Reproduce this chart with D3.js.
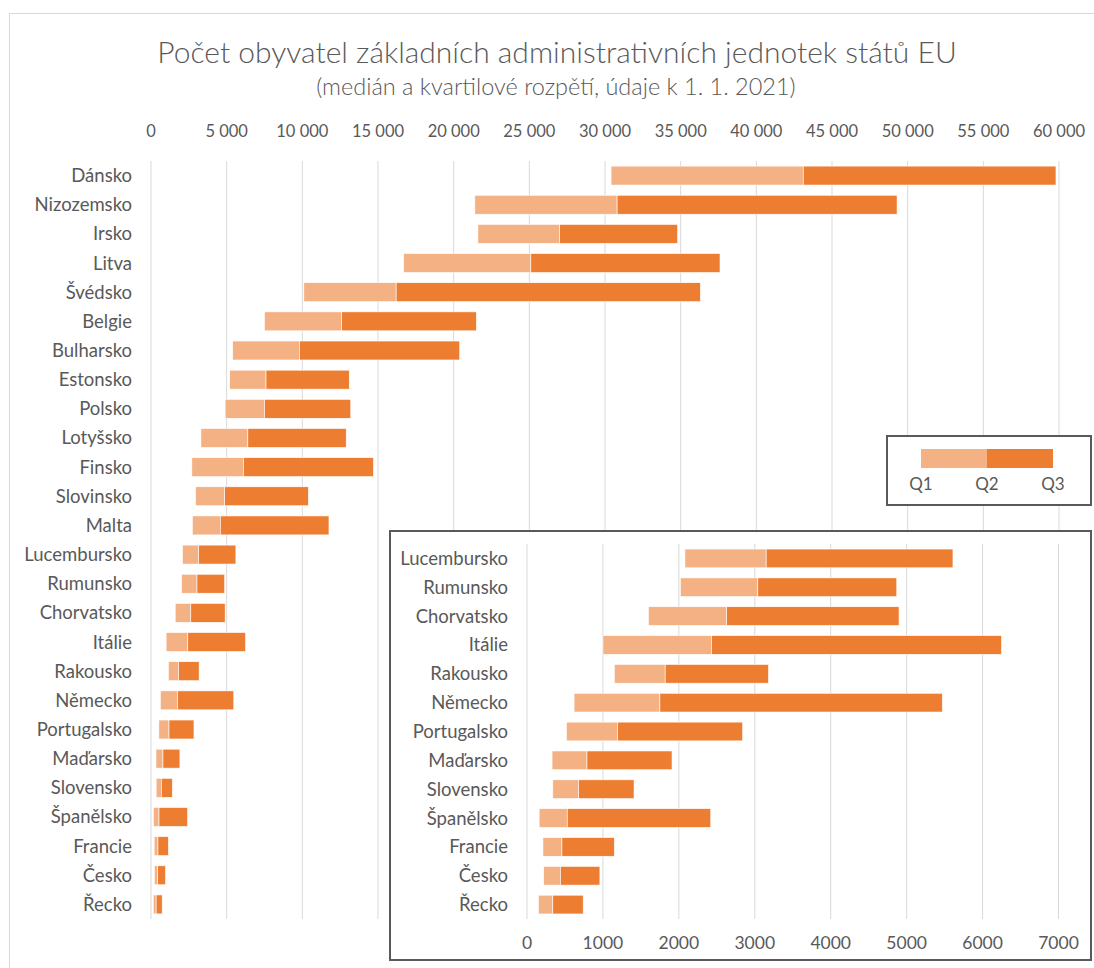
<!DOCTYPE html>
<html lang="cs">
  <head>
    <meta charset="UTF-8" />
    <title>Počet obyvatel základních administrativních jednotek</title>
    <script src="https://d3js.org/d3.v7.min.js"></script>
    <style>
      body { margin: 0; background: #fff; }
      text { font-family: Lato, "Open Sans", sans-serif; fill: #595959; }
    </style>
  </head>
  <body>
    <div id="chart"></div>
    <script>
      // data (population of LAU units, persons)
      const countries = [
        "Dánsko", "Nizozemsko", "Irsko", "Litva", "Švédsko", "Belgie",
        "Bulharsko", "Estonsko", "Polsko", "Lotyšsko", "Finsko", "Slovinsko",
        "Malta", "Lucembursko", "Rumunsko", "Chorvatsko", "Itálie", "Rakousko",
        "Německo", "Portugalsko", "Maďarsko", "Slovensko", "Španělsko",
        "Francie", "Česko", "Řecko",
      ];
      const q1 = [
        30400, 21400, 21600, 16700, 10100, 7500, 5400, 5200, 4900, 3300, 2700,
        2950, 2730, 2080, 2020, 1600, 1000, 1150, 620, 520, 330, 340, 160, 210,
        220, 150,
      ];
      const q2 = [
        43100, 30800, 27000, 25100, 16200, 12600, 9800, 7600, 7500, 6400, 6100,
        4870, 4580, 3150, 3040, 2630, 2430, 1820, 1750, 1190, 790, 680, 530,
        460, 440, 340,
      ];
      const q3 = [
        59800, 49300, 34800, 37600, 36300, 21500, 20400, 13100, 13200, 12900,
        14700, 10400, 11760, 5610, 4870, 4900, 6250, 3180, 5470, 2840, 1910,
        1410, 2420, 1150, 960, 740,
      ];
      const mainTicks = d3.range(0, 60001, 5000);
      const insetTicks = d3.range(0, 7001, 1000);
      const insetFrom = "Lucembursko";
      const legendLabels = ["Q1", "Q2", "Q3"];

      const title = "Počet obyvatel základních administrativních jednotek států EU";
      const subtitle = "(medián a kvartilové rozpětí, údaje k 1. 1. 2021)";

      const lightColor = "#F4B183";
      const darkColor = "#ED7D31";
      const gridColor = "#d9d9d9";

      const data = countries.map((c, i) => ({
        name: c, q1: q1[i], q2: q2[i], q3: q3[i],
      }));

      const W = 1094, H = 968;
      const svg = d3.select("#chart").append("svg")
        .attr("width", W).attr("height", H);

      // outer chart border
      svg.append("rect")
        .attr("x", 9.5).attr("y", 13.5)
        .attr("width", 1100).attr("height", 1000)
        .attr("fill", "#fff").attr("stroke", gridColor);

      svg.append("text").attr("x", 557).attr("y", 63)
        .attr("text-anchor", "middle").style("font-size", "30px")
        .style("font-weight", 300)
        .text(title);
      svg.append("text").attr("x", 556).attr("y", 95)
        .attr("text-anchor", "middle").style("font-size", "23.5px")
        .style("font-weight", 300)
        .text(subtitle);

      const fmt = (v) => d3.format(",")(v).replace(/,/g, " ");

      // draws one range bar chart (Q1-Q2 light, Q2-Q3 dark)
      function drawRanges(g, rows, x, y, fontSize) {
        const bars = g.selectAll(null).data(rows).enter();
        bars.append("rect")
          .attr("x", (d) => x(d.q1))
          .attr("y", (d) => y(d.name))
          .attr("width", (d) => x(d.q2) - x(d.q1))
          .attr("height", y.bandwidth())
          .attr("fill", lightColor)
          .attr("stroke", "#fff").attr("stroke-width", 0.6);
        bars.append("rect")
          .attr("x", (d) => x(d.q2))
          .attr("y", (d) => y(d.name))
          .attr("width", (d) => x(d.q3) - x(d.q2))
          .attr("height", y.bandwidth())
          .attr("fill", darkColor)
          .attr("stroke", "#fff").attr("stroke-width", 0.6);
        bars.append("text")
          .attr("x", x.range()[0] - 19)
          .attr("y", (d) => y(d.name) + y.bandwidth() / 2)
          .attr("dy", "0.35em")
          .attr("text-anchor", "end")
          .style("font-size", fontSize)
          .text((d) => d.name);
      }

      function grid(g, x, ticks, y0, y1) {
        g.selectAll(null).data(ticks).enter().append("line")
          .attr("x1", (d) => x(d)).attr("x2", (d) => x(d))
          .attr("y1", y0).attr("y2", y1)
          .attr("stroke", gridColor).attr("stroke-width", 1);
      }

      // main chart
      const x = d3.scaleLinear().domain([0, 60000]).range([151, 1059]);
      const y = d3.scaleBand().domain(countries).range([161, 919])
        .paddingInner(0.35).paddingOuter(0.175);

      const main = svg.append("g");
      grid(main, x, mainTicks, 161, 919);
      main.selectAll(null).data(mainTicks).enter().append("text")
        .attr("x", (d) => x(d)).attr("y", 137)
        .attr("text-anchor", "middle").style("font-size", "16.5px")
        .text(fmt);
      drawRanges(main, data, x, y, "18.5px");

      // legend box
      const lg = svg.append("g");
      lg.append("rect").attr("x", 887).attr("y", 436)
        .attr("width", 204).attr("height", 69)
        .attr("fill", "#fff").attr("stroke", "#595959").attr("stroke-width", 2);
      const lx = d3.scalePoint().domain(legendLabels).range([921, 1053]);
      lg.append("rect").attr("x", lx("Q1")).attr("y", 449)
        .attr("width", lx("Q2") - lx("Q1")).attr("height", 19)
        .attr("fill", lightColor);
      lg.append("rect").attr("x", lx("Q2")).attr("y", 449)
        .attr("width", lx("Q3") - lx("Q2")).attr("height", 19)
        .attr("fill", darkColor);
      lg.selectAll(null).data(legendLabels).enter().append("text")
        .attr("x", (d) => lx(d)).attr("y", 490)
        .attr("text-anchor", "middle").style("font-size", "17px")
        .text((d) => d);

      // inset: zoom on the smallest values
      const small = data.slice(countries.indexOf(insetFrom));
      const ix = d3.scaleLinear().domain([0, 7000]).range([527, 1058.5]);
      const iy = d3.scaleBand().domain(small.map((d) => d.name))
        .range([544, 919]).paddingInner(0.35).paddingOuter(0.175);

      const inset = svg.append("g");
      inset.append("rect").attr("x", 390).attr("y", 531)
        .attr("width", 701).attr("height", 429)
        .attr("fill", "#fff").attr("stroke", "#595959").attr("stroke-width", 2);
      grid(inset, ix, insetTicks, 544, 919);
      inset.selectAll(null).data(insetTicks).enter().append("text")
        .attr("x", (d) => ix(d)).attr("y", 949)
        .attr("text-anchor", "middle").style("font-size", "17.5px")
        .text((d) => d);
      drawRanges(inset, small, ix, iy, "18.5px");
    </script>
  </body>
</html>
